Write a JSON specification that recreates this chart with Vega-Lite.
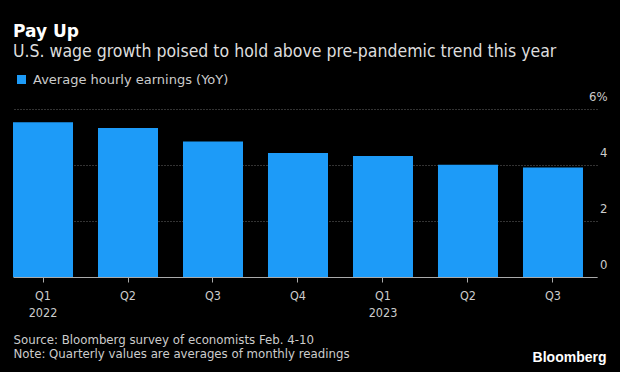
{
  "$schema": "https://vega.github.io/schema/vega-lite/v6.json",
  "width": 584,
  "height": 168,
  "autosize": "none",
  "padding": {"left": 13, "top": 109, "right": 23, "bottom": 95},
  "background": "#000000",
  "config": {
    "view": {"stroke": null},
    "font": "DejaVu Sans Condensed"
  },
  "title": {
    "text": "Pay Up",
    "subtitle": "U.S. wage growth poised to hold above pre-pandemic trend this year",
    "anchor": "start",
    "frame": "group",
    "font": "DejaVu Sans",
    "fontSize": 17,
    "fontWeight": "bold",
    "color": "#ffffff",
    "subtitleFont": "DejaVu Sans Condensed",
    "subtitleFontSize": 17.5,
    "subtitleColor": "#dddddd",
    "subtitlePadding": 2,
    "offset": 12
  },
  "data": {
    "values": [
      {"period": "2022-Q1", "value": 5.53},
      {"period": "2022-Q2", "value": 5.32},
      {"period": "2022-Q3", "value": 4.84},
      {"period": "2022-Q4", "value": 4.43},
      {"period": "2023-Q1", "value": 4.32},
      {"period": "2023-Q2", "value": 4.01},
      {"period": "2023-Q3", "value": 3.91}
    ]
  },
  "mark": {"type": "bar"},
  "encoding": {
    "x": {
      "field": "period",
      "type": "ordinal",
      "sort": null,
      "scale": {"paddingInner": 0.294, "paddingOuter": 0.0824, "align": 0},
      "axis": {
        "labelAngle": 0,
        "labelExpr": "slice(datum.value, 5) == 'Q1' ? [slice(datum.value, 5), slice(datum.value, 0, 4)] : slice(datum.value, 5)",
        "labelColor": "#cccccc",
        "labelFontSize": 12.5,
        "labelLineHeight": 17,
        "labelPadding": 7,
        "domainColor": "#aaaaaa",
        "tickColor": "#aaaaaa",
        "tickSize": 5,
        "grid": false,
        "title": ["Source: Bloomberg survey of economists Feb. 4-10", "Note: Quarterly values are averages of monthly readings"],
        "titleFontWeight": "normal",
        "titleFontSize": 13.1,
        "titleColor": "#cccccc",
        "titleLineHeight": 13.5,
        "titleAlign": "left",
        "titleBaseline": "top",
        "titleX": 0,
        "titleY": 56.5
      }
    },
    "y": {
      "field": "value",
      "type": "quantitative",
      "scale": {"domain": [0, 6]},
      "axis": {
        "orient": "right",
        "values": [0, 2, 4, 6],
        "labelExpr": "datum.value == 6 ? '6%' : datum.label",
        "labelAlign": "right",
        "labelBaseline": "middle",
        "labelOffset": -13,
        "labelPadding": 10,
        "labelColor": "#cccccc",
        "labelFontSize": 13,
        "domain": false,
        "ticks": false,
        "grid": true,
        "gridColor": "#666666",
        "gridDash": [1, 2],
        "gridWidth": 1,
        "title": "Bloomberg",
        "titleFont": "Liberation Sans",
        "titleAngle": 0,
        "titleFontSize": 14,
        "titleFontWeight": "bold",
        "titleColor": "#ffffff",
        "titleAlign": "right",
        "titleBaseline": "middle",
        "titleX": 9,
        "titleY": 248
      }
    },
    "color": {
      "datum": "Average hourly earnings (YoY)",
      "scale": {"range": ["#1d9bf8"]},
      "legend": {
        "orient": "none",
        "legendX": 2,
        "legendY": -36,
        "title": null,
        "symbolType": "square",
        "symbolSize": 81,
        "symbolStrokeWidth": 0,
        "labelFont": "DejaVu Sans",
        "labelColor": "#cccccc",
        "labelFontSize": 13,
        "labelOffset": 5,
        "labelLimit": 0
      }
    }
  }
}
